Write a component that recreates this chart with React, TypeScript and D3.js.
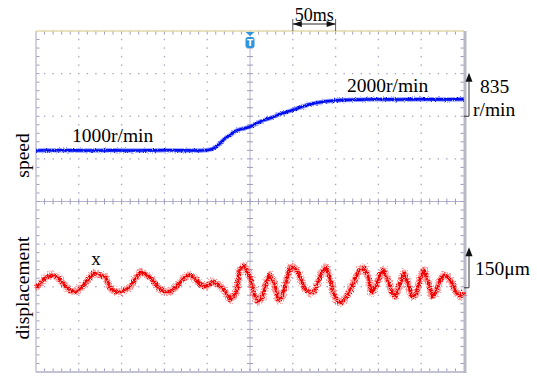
import React from "react";
import * as d3 from "d3";

const W = 537;
const H = 377;
const left = 36;
const right = 464;
const top = 31;
const bottom = 372;

// time (ms, trigger at 0) from -250 to 250, 50 ms per division
const timeDiv = 50;
const speedPerDiv = 835; // r/min per division
const dispPerDiv = 150; // µm per division

// speed trace [ms, r/min]
const speedT = [-250, -220, -190, -160, -130, -100, -64, -49, -41, -35, -29, -23, -18, -6, 0, 12, 23, 35, 47, 58, 70, 82, 93, 111, 128, 150, 175, 200, 225, 250];
const speedV = [1000, 1004, 998, 1002, 999, 1003, 1000, 1010, 1055, 1140, 1240, 1300, 1370, 1435, 1465, 1565, 1630, 1710, 1775, 1840, 1905, 1945, 1970, 1990, 1995, 2002, 1998, 2003, 2000, 2005];

// displacement trace [ms, µm]
const dispT = [-250, -248, -239, -231, -224, -217, -210, -203, -196, -189, -182, -175, -168, -164, -157, -150, -140, -133, -128, -121, -114, -107, -100, -93, -86, -79, -72, -65, -58, -51, -44, -37, -30, -23, -16, -12, -7, 0, 5, 9, 14, 19, 23, 28, 33, 37, 42, 47, 51, 56, 61, 65, 70, 75, 79, 84, 89, 93, 98, 103, 107, 112, 117, 124, 128, 133, 138, 142, 147, 152, 156, 161, 166, 170, 175, 180, 184, 189, 194, 199, 203, 208, 213, 217, 222, 227, 231, 236, 241, 245, 250];
const dispV = [11, 0, 32, 42, 32, 7, -14, -18, 0, 25, 49, 42, 32, -4, -18, -18, 0, 32, 53, 42, 25, -4, -18, -18, 0, 25, 42, 32, 7, 0, 18, 7, -11, -46, -21, 60, 74, 35, -28, -53, -39, 14, 42, 14, -46, -39, 14, 67, 70, 53, 14, -11, -21, -18, 14, 53, 70, 32, -28, -53, -56, -39, -11, 35, 60, 67, 35, -21, 0, 42, 60, 25, -21, -35, 7, 49, 18, -35, -28, 32, 60, 18, -35, -21, 25, 42, 35, 14, -21, -35, -18];

const serif = "'Liberation Serif', 'Times New Roman', serif";

export default function App() {
  const x = d3.scaleLinear().domain([-5 * timeDiv, 5 * timeDiv]).range([left, right]);
  const ySpeed = d3.scaleLinear().domain([-4 * speedPerDiv, 4 * speedPerDiv]).range([bottom, top]);
  const yDisp = d3.scaleLinear().domain([-2 * dispPerDiv, 6 * dispPerDiv]).range([bottom, top]);

  const dx = (right - left) / 10;
  const dy = (bottom - top) / 8;
  const cx = x(0);
  const cy = ySpeed(0);

  const speedLine = d3.line<number>().x((_, i) => x(speedT[i])).y((d) => ySpeed(d)).curve(d3.curveMonotoneX);
  const dispLine = d3.line<number>().x((_, i) => x(dispT[i])).y((d) => yDisp(d));

  const dots: JSX.Element[] = [];
  const gridCol = "#a9a9c6";
  for (let i = 1; i < 10; i++) {
    if (i === 5) continue;
    const gx = left + i * dx;
    for (let j = 1; j < 40; j++) {
      dots.push(<rect key={`v${i}-${j}`} x={gx - 0.7} y={top + (j * dy) / 5 - 0.7} width={1.4} height={1.4} fill={gridCol} />);
    }
  }
  for (let i = 1; i < 8; i++) {
    if (i === 4) continue;
    const gy = top + i * dy;
    for (let j = 1; j < 50; j++) {
      if (j % 5 === 0) continue;
      dots.push(<rect key={`h${i}-${j}`} x={left + (j * dx) / 5 - 0.7} y={gy - 0.7} width={1.4} height={1.4} fill={gridCol} />);
    }
  }

  const ticks: JSX.Element[] = [];
  const tickCol = "#9d9dbd";
  for (let j = 1; j < 50; j++) {
    const tx = left + (j * dx) / 5;
    ticks.push(<line key={`ct${j}`} x1={tx} x2={tx} y1={cy - 3} y2={cy + 3} stroke={tickCol} />);
    ticks.push(<line key={`tt${j}`} x1={tx} x2={tx} y1={top} y2={top + 3.5} stroke={tickCol} />);
    ticks.push(<line key={`bt${j}`} x1={tx} x2={tx} y1={bottom} y2={bottom - 3.5} stroke={tickCol} />);
  }
  for (let j = 1; j < 40; j++) {
    const ty = top + (j * dy) / 5;
    ticks.push(<line key={`cv${j}`} x1={cx - 3} x2={cx + 3} y1={ty} y2={ty} stroke={tickCol} />);
    ticks.push(<line key={`lt${j}`} x1={left} x2={left + 3.5} y1={ty} y2={ty} stroke={tickCol} />);
    ticks.push(<line key={`rt${j}`} x1={right} x2={right - 3.5} y1={ty} y2={ty} stroke={tickCol} />);
  }

  const bx1 = x(50);
  const bx2 = x(100);
  const arrowX = 469;
  const s0 = ySpeed(2 * speedPerDiv);
  const s1 = ySpeed(3 * speedPerDiv);
  const d0 = yDisp(0);
  const d1 = yDisp(dispPerDiv);

  return (
    <svg width={W} height={H} style={{ position: "absolute", left: 0, top: 0, background: "#fff" }}>
      <defs>
        <filter id="fuzz" x="-5%" y="-30%" width="110%" height="160%">
          <feTurbulence type="fractalNoise" baseFrequency="0.8" numOctaves={2} seed={4} result="n" />
          <feDisplacementMap in="SourceGraphic" in2="n" scale={7} xChannelSelector="R" yChannelSelector="G" />
        </filter>
        <filter id="fuzzS" x="-5%" y="-30%" width="110%" height="160%">
          <feTurbulence type="fractalNoise" baseFrequency="0.9" numOctaves={2} seed={7} result="n" />
          <feDisplacementMap in="SourceGraphic" in2="n" scale={3} xChannelSelector="R" yChannelSelector="G" />
        </filter>
      </defs>
      {dots}
      <line x1={cx} x2={cx} y1={top} y2={bottom} stroke="#b4b4d0" />
      <line x1={left} x2={right} y1={cy} y2={cy} stroke="#b4b4d0" />
      {ticks}
      <line x1={left} x2={left} y1={top} y2={bottom} stroke="#c2c2d2" strokeWidth={1.5} />
      <line x1={left} x2={right} y1={bottom} y2={bottom} stroke="#c2c2d2" strokeWidth={2} />
      <line x1={left} x2={right} y1={top} y2={top} stroke="#e2d9a6" strokeWidth={1.5} />
      <line x1={right + 1} x2={right + 1} y1={top} y2={bottom + 1} stroke="#b8b8c8" strokeWidth={3} />

      {/* traces */}
      <g filter="url(#fuzzS)">
        <path d={speedLine(speedV) ?? ""} fill="none" stroke="#2a3cff" strokeOpacity={0.5} strokeWidth={4.5} />
        <path d={speedLine(speedV) ?? ""} fill="none" stroke="#0010ee" strokeWidth={2.6} />
      </g>
      <g filter="url(#fuzz)">
        <path d={dispLine(dispV) ?? ""} fill="none" stroke="#ff2020" strokeOpacity={0.45} strokeWidth={6.5} strokeLinejoin="round" />
        <path d={dispLine(dispV) ?? ""} fill="none" stroke="#f00000" strokeWidth={2.5} strokeLinejoin="round" />
      </g>

      {/* trigger marker */}
      <path d={`M${cx - 4.5},${top + 1} L${cx + 4.5},${top + 1} L${cx},${top + 5} Z`} fill="#2f94e0" />
      <rect x={cx - 4.5} y={top + 6} width={9} height={11} rx={2.5} fill="#2f94e0" />
      <text x={cx} y={top + 15} fontSize={9} fontWeight="bold" fill="#fff" textAnchor="middle" fontFamily="'DejaVu Sans', sans-serif">T</text>

      {/* 50ms bracket */}
      <text x={(bx1 + bx2) / 2} y={21} fontSize={18} textAnchor="middle" fontFamily={serif}>50ms</text>
      <line x1={bx1} x2={bx1} y1={19} y2={top} stroke="#333" strokeWidth={0.8} />
      <line x1={bx2} x2={bx2} y1={19} y2={top} stroke="#333" strokeWidth={0.8} />
      <line x1={bx1} x2={bx2} y1={24} y2={24} stroke="#111" strokeWidth={0.9} />
      <path d={`M${bx1},24 L${bx1 + 9},21 L${bx1 + 9},27 Z`} fill="#111" />
      <path d={`M${bx2},24 L${bx2 - 9},21 L${bx2 - 9},27 Z`} fill="#111" />

      {/* trace labels */}
      <text x={72} y={142} fontSize={19.5} fontFamily={serif}>1000r/min</text>
      <text x={347} y={92} fontSize={19.5} fontFamily={serif}>2000r/min</text>
      <text x={96} y={265} fontSize={19} textAnchor="middle" fontFamily={serif}>x</text>

      {/* axis labels */}
      <text transform={`translate(29,${ySpeed(1000) + 5}) rotate(-90)`} fontSize={19.5} textAnchor="middle" fontFamily={serif}>speed</text>
      <text transform={`translate(29,288) rotate(-90)`} fontSize={19.5} textAnchor="middle" fontFamily={serif}>displacement</text>

      {/* scale markers */}
      <line x1={arrowX} x2={arrowX} y1={s0} y2={s1 + 6} stroke="#222" strokeWidth={0.9} />
      <line x1={right} x2={arrowX} y1={s0} y2={s0} stroke="#222" strokeWidth={0.9} />
      <path d={`M${arrowX},${s1 - 1} L${arrowX - 3.5},${s1 + 8} L${arrowX + 3.5},${s1 + 8} Z`} fill="#111" />
      <text x={480} y={93} fontSize={19.5} fontFamily={serif}>835</text>
      <text x={473} y={116} fontSize={19.5} fontFamily={serif}>r/min</text>

      <line x1={arrowX} x2={arrowX} y1={d0 + 1} y2={d1 + 6} stroke="#222" strokeWidth={0.9} />
      <line x1={right} x2={arrowX} y1={d0 + 1} y2={d0 + 1} stroke="#222" strokeWidth={0.9} />
      <path d={`M${arrowX},${d1 + 3} L${arrowX - 3.5},${d1 + 12} L${arrowX + 3.5},${d1 + 12} Z`} fill="#111" />
      <text x={475} y={275} fontSize={19.5} fontFamily={serif}>150μm</text>
    </svg>
  );
}
